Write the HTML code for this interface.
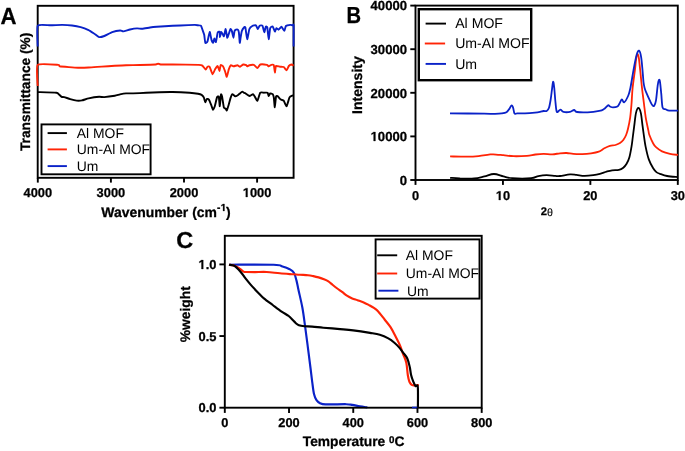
<!DOCTYPE html>
<html><head><meta charset="utf-8"><style>
html,body{margin:0;padding:0;background:#fff;}
text{text-rendering:geometricPrecision;}
text[font-weight="bold"]{stroke:#000;stroke-width:0.28px;}
body{width:685px;height:451px;overflow:hidden;}
svg{display:block;will-change:transform;font-family:"Liberation Sans",sans-serif;}
</style></head><body>
<svg width="685" height="451" viewBox="0 0 685 451">
<rect width="685" height="451" fill="#fff"/>
<rect x="37.7" y="5.8" width="255.90" height="172.00" fill="none" stroke="#000" stroke-width="1.9"/>
<path d="M37.70,92.10 C39.26,92.15 54.62,92.50 56.40,92.70 C58.17,92.90 58.57,94.16 59.00,94.50 C59.43,94.84 61.17,96.58 61.60,96.80 C62.03,97.02 63.48,96.91 64.20,97.10 C64.92,97.29 69.16,98.81 70.20,99.10 C71.24,99.39 75.72,100.49 76.70,100.60 C77.68,100.71 81.01,100.58 82.00,100.40 C82.99,100.22 87.17,98.70 88.60,98.40 C90.02,98.10 97.79,96.91 99.10,96.80 C100.41,96.69 102.99,97.18 104.30,97.10 C105.61,97.02 113.49,96.02 114.80,95.80 C116.11,95.58 119.07,94.60 120.00,94.40 C120.93,94.20 124.91,93.48 126.00,93.40 C127.09,93.32 131.41,93.45 133.10,93.40 C134.79,93.35 144.11,92.90 146.30,92.80 C148.49,92.70 157.21,92.27 159.40,92.20 C161.59,92.13 170.08,91.95 172.60,92.00 C175.12,92.05 187.48,92.65 189.60,92.80 C191.72,92.95 197.00,93.62 198.00,93.80 C199.00,93.97 201.12,94.60 201.60,94.90 C202.08,95.20 203.49,96.79 203.80,97.40 C204.11,98.01 205.05,102.08 205.30,102.20 C205.55,102.33 206.50,99.12 206.80,98.90 C207.10,98.68 208.54,99.12 208.90,99.60 C209.26,100.08 210.76,103.85 211.10,104.70 C211.44,105.55 212.69,109.67 213.00,109.80 C213.31,109.92 214.47,107.23 214.80,106.20 C215.13,105.17 216.67,98.19 217.00,97.40 C217.33,96.61 218.57,95.97 218.80,96.70 C219.03,97.43 219.62,106.38 219.80,106.20 C219.98,106.02 220.81,95.29 221.00,94.50 C221.19,93.71 221.86,95.61 222.10,96.70 C222.34,97.79 223.60,106.60 223.90,107.60 C224.20,108.60 225.46,108.46 225.70,108.70 C225.94,108.94 226.55,110.83 226.80,110.50 C227.05,110.17 228.39,105.73 228.70,104.70 C229.01,103.67 230.20,98.98 230.50,98.10 C230.80,97.22 231.91,94.25 232.30,94.10 C232.69,93.95 234.74,96.21 235.20,96.30 C235.66,96.39 237.40,95.44 237.80,95.20 C238.20,94.96 239.63,93.70 240.00,93.40 C240.37,93.10 241.83,91.63 242.20,91.60 C242.57,91.57 244.17,92.88 244.40,93.00 C244.63,93.12 244.58,92.75 245.00,93.00 C245.42,93.25 248.73,95.91 249.40,96.00 C250.07,96.09 252.52,93.98 253.00,94.10 C253.48,94.22 254.83,96.85 255.20,97.40 C255.57,97.95 256.97,101.09 257.40,100.70 C257.82,100.31 259.75,93.37 260.30,92.70 C260.85,92.03 263.39,92.70 264.00,92.70 C264.61,92.70 267.21,92.42 267.60,92.70 C267.99,92.98 268.48,95.94 268.70,96.00 C268.92,96.06 269.87,93.56 270.20,93.40 C270.53,93.24 272.40,93.77 272.70,94.10 C273.00,94.43 273.62,96.30 273.80,97.40 C273.98,98.50 274.62,107.36 274.80,107.30 C274.98,107.24 275.77,97.64 276.00,96.70 C276.23,95.76 277.10,95.76 277.50,96.00 C277.90,96.24 280.28,99.21 280.80,99.60 C281.32,99.99 283.22,100.15 283.70,100.70 C284.18,101.25 286.12,106.48 286.60,106.20 C287.08,105.92 289.02,98.28 289.50,97.40 C289.98,96.52 292.06,95.75 292.40,95.60 C292.74,95.45 293.50,95.60 293.60,95.60" fill="none" stroke="#000" stroke-width="1.9" stroke-linejoin="round" stroke-linecap="butt"/>
<path d="M37.70,85.90 C37.70,84.15 35.98,66.65 37.70,64.90 C39.42,63.15 56.47,64.79 58.30,64.90 C60.13,65.01 58.83,66.02 59.70,66.20 C60.58,66.38 67.27,66.97 68.80,67.10 C70.33,67.22 76.35,67.67 78.00,67.70 C79.65,67.73 86.62,67.59 88.60,67.50 C90.57,67.41 99.52,66.74 101.70,66.60 C103.88,66.46 112.77,65.92 114.80,65.80 C116.83,65.68 123.90,65.27 126.00,65.20 C128.10,65.13 137.54,65.06 140.00,65.00 C142.46,64.94 153.99,64.61 155.50,64.50 C157.01,64.39 157.67,63.70 158.10,63.70 C158.53,63.70 159.49,64.43 160.70,64.50 C161.91,64.57 169.42,64.47 172.60,64.50 C175.78,64.53 196.32,64.81 198.80,64.90 C201.28,64.99 201.83,65.21 202.40,65.60 C202.97,65.99 205.27,69.51 205.70,69.60 C206.12,69.69 207.17,66.92 207.50,66.70 C207.83,66.48 209.27,66.37 209.70,67.00 C210.12,67.63 212.14,74.14 212.60,74.30 C213.06,74.46 214.77,69.59 215.20,68.90 C215.62,68.21 217.34,65.82 217.70,66.00 C218.06,66.18 219.26,71.17 219.50,71.10 C219.74,71.03 220.32,65.62 220.60,65.20 C220.88,64.78 222.43,65.51 222.80,66.00 C223.17,66.49 224.67,70.19 225.00,71.10 C225.33,72.01 226.49,77.03 226.80,76.90 C227.11,76.78 228.37,70.57 228.70,69.60 C229.03,68.62 230.38,65.48 230.80,65.20 C231.23,64.92 233.25,66.30 233.80,66.30 C234.35,66.30 236.88,65.17 237.40,65.20 C237.92,65.23 239.51,66.76 240.00,66.70 C240.49,66.64 242.78,64.62 243.30,64.50 C243.82,64.38 245.88,65.05 246.20,65.20 C246.52,65.35 246.93,66.30 247.20,66.30 C247.47,66.30 248.85,65.32 249.40,65.20 C249.95,65.08 253.13,64.66 253.80,64.90 C254.47,65.14 256.86,68.13 257.40,68.10 C257.94,68.07 259.51,64.77 260.30,64.50 C261.09,64.23 266.20,64.75 266.90,64.90 C267.60,65.05 268.33,66.30 268.70,66.30 C269.07,66.30 270.88,64.99 271.30,64.90 C271.73,64.81 273.50,64.57 273.80,65.20 C274.10,65.83 274.72,72.43 274.90,72.50 C275.08,72.57 275.57,66.48 276.00,66.00 C276.43,65.52 279.36,66.62 280.00,66.70 C280.64,66.78 283.15,66.70 283.70,67.00 C284.25,67.30 286.18,70.38 286.60,70.30 C287.03,70.22 288.38,66.48 288.80,66.00 C289.23,65.52 291.30,64.53 291.70,64.50 C292.10,64.47 293.44,65.51 293.60,65.60" fill="none" stroke="#ff2406" stroke-width="1.9" stroke-linejoin="round" stroke-linecap="butt"/>
<path d="M37.70,46.50 C37.70,44.77 36.68,27.57 37.70,25.80 C38.73,24.03 47.95,25.38 50.00,25.30 C52.05,25.23 60.47,24.88 62.30,24.90 C64.13,24.92 70.47,25.32 72.00,25.50 C73.53,25.68 79.32,26.72 80.70,27.10 C82.08,27.48 87.49,29.57 88.60,30.10 C89.71,30.63 93.12,32.92 94.00,33.50 C94.88,34.08 98.24,36.89 99.10,37.10 C99.96,37.31 103.21,36.42 104.30,36.00 C105.39,35.58 110.88,32.56 112.20,32.10 C113.53,31.64 119.28,30.56 120.20,30.50 C121.12,30.44 122.48,31.48 123.30,31.40 C124.12,31.32 128.85,29.75 130.00,29.50 C131.15,29.25 136.07,28.46 137.10,28.40 C138.12,28.34 141.23,28.88 142.30,28.80 C143.38,28.73 148.79,27.67 150.00,27.50 C151.21,27.33 154.92,26.94 156.80,26.80 C158.68,26.66 169.97,25.94 172.60,25.80 C175.22,25.66 186.44,25.18 188.30,25.10 C190.16,25.03 194.09,24.88 194.90,24.90 C195.71,24.92 197.50,25.23 198.00,25.30 C198.50,25.37 200.51,25.27 200.90,25.70 C201.29,26.12 202.42,29.64 202.70,30.40 C202.97,31.16 203.98,33.77 204.20,34.80 C204.42,35.83 205.03,42.25 205.30,42.80 C205.58,43.35 207.13,42.31 207.50,41.40 C207.87,40.49 209.37,32.02 209.70,31.90 C210.03,31.77 211.22,38.99 211.50,39.90 C211.78,40.81 212.76,42.92 213.00,42.80 C213.24,42.67 214.16,38.46 214.40,38.40 C214.64,38.34 215.62,42.58 215.90,42.10 C216.18,41.62 217.37,33.45 217.70,32.60 C218.03,31.75 219.72,31.53 219.90,31.90 C220.08,32.27 219.78,37.00 219.90,37.00 C220.03,37.00 221.07,31.97 221.40,31.90 C221.73,31.83 223.54,36.44 223.90,36.20 C224.26,35.96 225.42,28.88 225.70,29.00 C225.97,29.12 226.95,37.28 227.20,37.70 C227.45,38.12 228.42,34.83 228.70,34.10 C228.97,33.38 230.23,29.25 230.50,29.00 C230.77,28.75 231.66,30.38 231.90,31.10 C232.14,31.83 233.18,37.70 233.40,37.70 C233.62,37.70 234.28,31.77 234.50,31.10 C234.72,30.43 235.72,29.82 236.00,29.70 C236.28,29.58 237.56,29.46 237.80,29.70 C238.04,29.94 238.73,31.51 238.90,32.60 C239.07,33.69 239.65,42.43 239.80,42.80 C239.95,43.17 240.53,37.98 240.70,37.00 C240.87,36.02 241.53,31.89 241.80,31.10 C242.08,30.31 243.70,27.80 244.00,27.50 C244.30,27.20 245.13,26.52 245.40,27.50 C245.67,28.48 246.87,39.08 247.20,39.20 C247.53,39.33 248.97,30.10 249.40,29.00 C249.83,27.90 251.76,26.31 252.30,26.00 C252.84,25.69 255.44,25.05 255.90,25.30 C256.36,25.55 257.49,28.97 257.80,29.00 C258.11,29.03 259.21,25.97 259.60,25.70 C259.99,25.43 262.11,25.16 262.50,25.70 C262.89,26.24 264.03,32.11 264.30,32.20 C264.57,32.29 265.55,27.19 265.80,26.80 C266.05,26.41 267.06,26.47 267.30,27.50 C267.54,28.53 268.46,39.14 268.70,39.20 C268.94,39.26 269.87,29.27 270.20,28.20 C270.53,27.13 272.31,26.12 272.70,26.40 C273.09,26.67 274.59,31.35 274.90,31.50 C275.21,31.65 276.09,28.35 276.40,28.20 C276.71,28.05 278.18,29.82 278.60,29.70 C279.03,29.58 281.02,26.71 281.50,26.80 C281.98,26.89 284.03,30.87 284.40,30.80 C284.77,30.73 285.41,26.49 285.90,26.00 C286.39,25.51 289.73,24.96 290.30,24.90 C290.88,24.84 292.53,25.27 292.80,25.30 C293.07,25.33 293.53,23.53 293.60,25.30 C293.67,27.07 293.60,44.73 293.60,46.50" fill="none" stroke="#0a22c8" stroke-width="1.9" stroke-linejoin="round" stroke-linecap="butt"/>
<line x1="37.8" y1="177.8" x2="37.8" y2="182.6" stroke="#000" stroke-width="1.9"/>
<text x="37.8" y="197.1" font-size="12.85" text-anchor="middle" font-weight="bold" >4000</text>
<line x1="110.9" y1="177.8" x2="110.9" y2="182.6" stroke="#000" stroke-width="1.9"/>
<text x="110.9" y="197.1" font-size="12.85" text-anchor="middle" font-weight="bold" >3000</text>
<line x1="184.0" y1="177.8" x2="184.0" y2="182.6" stroke="#000" stroke-width="1.9"/>
<text x="184.0" y="197.1" font-size="12.85" text-anchor="middle" font-weight="bold" >2000</text>
<line x1="257.1" y1="177.8" x2="257.1" y2="182.6" stroke="#000" stroke-width="1.9"/>
<path transform="translate(242.807,197) scale(0.006274,-0.006274)" d="M478 0V1170L140 959V1180L493 1409H759V0Z" fill="#000" stroke="#000" stroke-width="0.28" vector-effect="non-scaling-stroke"/>
<text x="257.1" y="197.1" font-size="12.85" text-anchor="middle" font-weight="bold" > 000</text>
<text transform="translate(0.50,24.33) scale(0.9462,1)" font-size="23.43" font-weight="bold">A</text>
<path transform="translate(220.679,211) scale(0.004980,-0.004980)" d="M478 0V1170L140 959V1180L493 1409H759V0Z" fill="#000" stroke="#000" stroke-width="0.28" vector-effect="non-scaling-stroke"/>
<text x="166" y="217.3" font-size="13.95" text-anchor="middle" font-weight="bold">Wavenumber (cm<tspan font-size="10.2" dy="-6.0">- </tspan><tspan dy="6.0">)</tspan></text>
<text transform="translate(29.5,91.8) rotate(-90)" x="0" y="0" font-size="13.75" text-anchor="middle" font-weight="bold">Transmittance (%)</text>
<rect x="41.5" y="124.4" width="109.1" height="49.9" fill="#fff" stroke="#000" stroke-width="1.9"/>
<line x1="47.6" y1="133.1" x2="66.9" y2="133.1" stroke="#000" stroke-width="1.9"/>
<text x="76.8" y="138.0" font-size="13.9" text-anchor="start" font-weight="normal" >Al MOF</text>
<line x1="47.6" y1="149.4" x2="66.9" y2="149.4" stroke="#ff2406" stroke-width="1.9"/>
<text x="76.8" y="154.3" font-size="13.9" text-anchor="start" font-weight="normal" >Um-Al MOF</text>
<line x1="47.6" y1="166.1" x2="66.9" y2="166.1" stroke="#0a22c8" stroke-width="1.9"/>
<text x="76.8" y="171.0" font-size="13.9" text-anchor="start" font-weight="normal" >Um</text>
<rect x="415.5" y="5.6" width="262.30" height="174.40" fill="none" stroke="#000" stroke-width="1.9"/>
<path d="M450.10,177.80 C451.68,177.92 455.58,178.38 459.60,178.50 C463.62,178.62 470.07,178.85 474.20,178.50 C478.33,178.15 481.12,177.15 484.40,176.40 C487.68,175.65 490.73,174.00 493.90,174.00 C497.07,174.00 500.35,175.70 503.40,176.40 C506.45,177.10 507.58,177.90 512.20,178.20 C516.82,178.50 526.73,178.55 531.10,178.20 C535.47,177.85 535.83,176.60 538.40,176.10 C540.97,175.60 543.70,175.23 546.50,175.20 C549.30,175.17 552.95,175.77 555.20,175.90 C557.45,176.03 557.53,176.25 560.00,176.00 C562.47,175.75 567.23,174.58 570.00,174.40 C572.77,174.22 574.20,174.67 576.60,174.90 C579.00,175.13 581.62,175.77 584.40,175.80 C587.18,175.83 590.72,175.43 593.30,175.10 C595.88,174.77 597.68,174.38 599.90,173.80 C602.12,173.22 604.57,172.18 606.60,171.60 C608.63,171.02 610.05,170.58 612.10,170.30 C614.15,170.02 617.03,170.33 618.90,169.90 C620.77,169.47 622.02,168.72 623.30,167.70 C624.58,166.68 625.58,165.55 626.60,163.80 C627.62,162.05 628.57,160.15 629.40,157.20 C630.23,154.25 631.03,149.47 631.60,146.10 C632.17,142.73 632.37,140.32 632.80,137.00 C633.23,133.68 633.67,130.22 634.20,126.20 C634.73,122.18 635.30,115.93 636.00,112.90 C636.70,109.87 637.60,108.00 638.40,108.00 C639.20,108.00 640.10,109.87 640.80,112.90 C641.50,115.93 642.10,122.52 642.60,126.20 C643.10,129.88 643.32,131.68 643.80,135.00 C644.28,138.32 644.67,142.03 645.50,146.10 C646.33,150.17 647.52,155.70 648.80,159.40 C650.08,163.10 651.93,166.18 653.20,168.30 C654.47,170.42 655.27,171.18 656.40,172.10 C657.53,173.02 658.22,173.15 660.00,173.80 C661.78,174.45 664.10,175.45 667.10,176.00 C670.10,176.55 676.18,176.92 678.00,177.10" fill="none" stroke="#000" stroke-width="1.8" stroke-linejoin="round" stroke-linecap="butt"/>
<path d="M450.10,156.40 C452.90,156.45 462.15,156.75 466.90,156.70 C471.65,156.65 474.95,156.45 478.60,156.10 C482.25,155.75 486.37,154.90 488.80,154.60 C491.23,154.30 490.77,154.20 493.20,154.30 C495.63,154.40 500.00,154.88 503.40,155.20 C506.80,155.52 509.70,156.10 513.60,156.20 C517.50,156.30 523.15,156.08 526.80,155.80 C530.45,155.52 532.70,154.82 535.50,154.50 C538.30,154.18 540.80,153.93 543.60,153.90 C546.40,153.87 549.57,154.40 552.30,154.30 C555.03,154.20 557.60,153.52 560.00,153.30 C562.40,153.08 564.48,152.90 566.70,153.00 C568.92,153.10 570.72,153.72 573.30,153.90 C575.88,154.08 579.23,154.20 582.20,154.10 C585.17,154.00 588.33,153.72 591.10,153.30 C593.87,152.88 596.58,152.43 598.80,151.60 C601.02,150.77 602.55,149.25 604.40,148.30 C606.25,147.35 608.05,146.45 609.90,145.90 C611.75,145.35 613.82,145.47 615.50,145.00 C617.18,144.53 618.70,143.93 620.00,143.10 C621.30,142.27 622.28,141.35 623.30,140.00 C624.32,138.65 625.32,136.87 626.10,135.00 C626.88,133.13 627.32,131.75 628.00,128.80 C628.68,125.85 629.62,121.43 630.20,117.30 C630.78,113.17 631.10,108.88 631.50,104.00 C631.90,99.12 632.03,93.63 632.60,88.00 C633.17,82.37 634.30,75.10 634.90,70.20 C635.50,65.30 635.77,61.27 636.20,58.60 C636.63,55.93 637.07,54.33 637.50,54.20 C637.93,54.07 638.35,55.13 638.80,57.80 C639.25,60.47 639.67,65.17 640.20,70.20 C640.73,75.23 641.52,83.53 642.00,88.00 C642.48,92.47 642.77,94.33 643.10,97.00 C643.43,99.67 643.57,100.62 644.00,104.00 C644.43,107.38 644.97,112.87 645.70,117.30 C646.43,121.73 647.78,127.65 648.40,130.60 C649.02,133.55 648.60,132.85 649.40,135.00 C650.20,137.15 652.10,141.47 653.20,143.50 C654.30,145.53 654.53,145.88 656.00,147.20 C657.47,148.52 659.67,150.28 662.00,151.40 C664.33,152.52 667.33,153.32 670.00,153.90 C672.67,154.48 676.67,154.73 678.00,154.90" fill="none" stroke="#ff2406" stroke-width="1.8" stroke-linejoin="round" stroke-linecap="butt"/>
<path d="M450.00,113.30 C455.72,113.37 476.80,113.62 484.30,113.70 C491.80,113.78 492.10,113.85 495.00,113.80 C497.90,113.75 499.78,113.67 501.70,113.40 C503.62,113.13 505.25,112.92 506.50,112.20 C507.75,111.48 508.38,110.22 509.20,109.10 C510.02,107.98 510.77,105.80 511.40,105.50 C512.03,105.20 512.48,105.97 513.00,107.30 C513.52,108.63 513.80,112.50 514.50,113.50 C515.20,114.50 515.45,113.33 517.20,113.30 C518.95,113.27 522.03,113.42 525.00,113.30 C527.97,113.18 532.50,112.83 535.00,112.60 C537.50,112.37 538.58,112.17 540.00,111.90 C541.42,111.63 542.38,111.15 543.50,111.00 C544.62,110.85 545.80,111.50 546.70,111.00 C547.60,110.50 548.25,109.83 548.90,108.00 C549.55,106.17 550.08,103.12 550.60,100.00 C551.12,96.88 551.58,92.33 552.00,89.30 C552.42,86.27 552.73,82.10 553.10,81.80 C553.47,81.50 553.80,84.03 554.20,87.50 C554.60,90.97 555.05,98.53 555.50,102.60 C555.95,106.67 556.08,110.72 556.90,111.90 C557.72,113.08 559.30,109.70 560.40,109.70 C561.50,109.70 561.90,111.53 563.50,111.90 C565.10,112.27 568.23,112.22 570.00,111.90 C571.77,111.58 572.93,109.98 574.10,110.00 C575.27,110.02 574.75,111.62 577.00,112.00 C579.25,112.38 583.90,112.48 587.60,112.30 C591.30,112.12 596.48,111.43 599.20,110.90 C601.92,110.37 602.43,110.03 603.90,109.10 C605.37,108.17 606.98,105.73 608.00,105.30 C609.02,104.87 609.17,106.15 610.00,106.50 C610.83,106.85 611.77,107.40 613.00,107.40 C614.23,107.40 616.32,107.15 617.40,106.50 C618.48,105.85 618.75,104.68 619.50,103.50 C620.25,102.32 621.12,99.60 621.90,99.40 C622.68,99.20 623.13,102.95 624.20,102.30 C625.27,101.65 627.27,97.88 628.30,95.50 C629.33,93.12 629.53,92.22 630.40,88.00 C631.27,83.78 632.47,75.68 633.50,70.20 C634.53,64.72 635.67,58.35 636.60,55.10 C637.53,51.85 638.35,50.40 639.10,50.70 C639.85,51.00 640.53,53.68 641.10,56.90 C641.67,60.12 642.10,65.82 642.50,70.00 C642.90,74.18 643.15,79.00 643.50,82.00 C643.85,85.00 644.15,86.27 644.60,88.00 C645.05,89.73 645.33,90.33 646.20,92.40 C647.07,94.47 648.77,98.25 649.80,100.40 C650.83,102.55 651.67,104.42 652.40,105.30 C653.13,106.18 653.60,106.52 654.20,105.70 C654.80,104.88 655.42,103.80 656.00,100.40 C656.58,97.00 657.22,88.70 657.70,85.30 C658.18,81.90 658.52,80.58 658.90,80.00 C659.28,79.42 659.60,79.43 660.00,81.80 C660.40,84.17 660.87,89.92 661.30,94.20 C661.73,98.48 661.87,104.98 662.60,107.50 C663.33,110.02 664.58,108.78 665.70,109.30 C666.82,109.82 667.25,110.38 669.30,110.60 C671.35,110.82 676.55,110.60 678.00,110.60" fill="none" stroke="#0a22c8" stroke-width="1.8" stroke-linejoin="round" stroke-linecap="butt"/>
<line x1="410.3" y1="5.6" x2="415.5" y2="5.6" stroke="#000" stroke-width="1.9"/>
<text x="407.0" y="10.45" font-size="13.1" text-anchor="end" font-weight="bold" >40000</text>
<line x1="410.3" y1="49.2" x2="415.5" y2="49.2" stroke="#000" stroke-width="1.9"/>
<text x="407.0" y="54.050000000000004" font-size="13.1" text-anchor="end" font-weight="bold" >30000</text>
<line x1="410.3" y1="92.8" x2="415.5" y2="92.8" stroke="#000" stroke-width="1.9"/>
<text x="407.0" y="97.64999999999999" font-size="13.1" text-anchor="end" font-weight="bold" >20000</text>
<line x1="410.3" y1="136.4" x2="415.5" y2="136.4" stroke="#000" stroke-width="1.9"/>
<path transform="translate(370.572,141) scale(0.006396,-0.006396)" d="M478 0V1170L140 959V1180L493 1409H759V0Z" fill="#000" stroke="#000" stroke-width="0.28" vector-effect="non-scaling-stroke"/>
<text x="407.0" y="141.25" font-size="13.1" text-anchor="end" font-weight="bold" > 0000</text>
<line x1="410.3" y1="180.0" x2="415.5" y2="180.0" stroke="#000" stroke-width="1.9"/>
<text x="407.0" y="184.85" font-size="13.1" text-anchor="end" font-weight="bold" >0</text>
<line x1="415.5" y1="180.0" x2="415.5" y2="184.9" stroke="#000" stroke-width="1.9"/>
<text x="415.5" y="200.4" font-size="12.8" text-anchor="middle" font-weight="bold" >0</text>
<line x1="502.93333333333334" y1="180.0" x2="502.93333333333334" y2="184.9" stroke="#000" stroke-width="1.9"/>
<path transform="translate(495.815,200) scale(0.006250,-0.006250)" d="M478 0V1170L140 959V1180L493 1409H759V0Z" fill="#000" stroke="#000" stroke-width="0.28" vector-effect="non-scaling-stroke"/>
<text x="502.93333333333334" y="200.4" font-size="12.8" text-anchor="middle" font-weight="bold" > 0</text>
<line x1="590.3666666666667" y1="180.0" x2="590.3666666666667" y2="184.9" stroke="#000" stroke-width="1.9"/>
<text x="590.3666666666667" y="200.4" font-size="12.8" text-anchor="middle" font-weight="bold" >20</text>
<line x1="677.8" y1="180.0" x2="677.8" y2="184.9" stroke="#000" stroke-width="1.9"/>
<text x="677.8" y="200.4" font-size="12.8" text-anchor="middle" font-weight="bold" >30</text>
<text x="546.9" y="214.9" font-size="11.2" text-anchor="middle" font-weight="bold">2<tspan font-weight="normal" font-size="10.7" style="stroke-width:0.12px" dy="0.6">θ</tspan></text>
<text transform="translate(346.53,23.4) scale(0.8692,1)" font-size="23.18" font-weight="bold">B</text>
<text transform="translate(362.2,85.1) rotate(-90)" x="0" y="0" font-size="14.05" text-anchor="middle" font-weight="bold">Intensity</text>
<rect x="418.8" y="9.2" width="112.4" height="71.0" fill="#fff" stroke="#000" stroke-width="2.4"/>
<line x1="425.6" y1="23.6" x2="446" y2="23.6" stroke="#000" stroke-width="1.9"/>
<text x="455.2" y="28.200000000000003" font-size="14.1" text-anchor="start" font-weight="normal" >Al MOF</text>
<line x1="424.8" y1="43.5" x2="445.1" y2="43.5" stroke="#ff2406" stroke-width="1.9"/>
<text x="455.2" y="48.1" font-size="14.1" text-anchor="start" font-weight="normal" >Um-Al MOF</text>
<line x1="425.6" y1="63.9" x2="446" y2="63.9" stroke="#0a22c8" stroke-width="1.9"/>
<text x="455.2" y="68.5" font-size="14.1" text-anchor="start" font-weight="normal" >Um</text>
<path d="M229.00,264.70 C236.45,264.72 264.78,264.50 273.70,264.80 C282.62,265.10 279.85,265.77 282.50,266.50 C285.15,267.23 287.70,268.17 289.60,269.20 C291.50,270.23 292.75,270.80 293.90,272.70 C295.05,274.60 295.73,277.72 296.50,280.60 C297.27,283.48 297.52,285.47 298.50,290.00 C299.48,294.53 301.30,301.73 302.40,307.80 C303.50,313.87 304.20,319.90 305.10,326.40 C306.00,332.90 306.90,339.87 307.80,346.80 C308.70,353.73 309.77,362.17 310.50,368.00 C311.23,373.83 311.62,377.47 312.20,381.80 C312.78,386.13 313.28,390.95 314.00,394.00 C314.72,397.05 315.48,398.57 316.50,400.10 C317.52,401.63 318.58,402.48 320.10,403.20 C321.62,403.92 321.27,404.23 325.60,404.40 C329.93,404.57 341.63,404.12 346.10,404.20 C350.57,404.28 350.10,404.53 352.40,404.90 C354.70,405.27 357.42,405.98 359.90,406.40 C362.38,406.82 366.07,407.23 367.30,407.40" fill="none" stroke="#0a22c8" stroke-width="2.15" stroke-linejoin="round" stroke-linecap="butt"/>
<rect x="224.8" y="235.8" width="256.90" height="171.90" fill="none" stroke="#000" stroke-width="1.9"/>
<path d="M229.00,264.70 C230.00,264.92 233.23,265.35 235.00,266.00 C236.77,266.65 238.17,267.67 239.60,268.60 C241.03,269.53 242.48,271.03 243.60,271.60 C244.72,272.17 244.40,271.92 246.30,272.00 C248.20,272.08 251.62,272.10 255.00,272.10 C258.38,272.10 262.45,271.80 266.60,272.00 C270.75,272.20 275.47,272.92 279.90,273.30 C284.33,273.68 289.85,274.05 293.20,274.30 C296.55,274.55 297.53,274.65 300.00,274.80 C302.47,274.95 305.78,274.98 308.00,275.20 C310.22,275.42 311.53,275.73 313.30,276.10 C315.07,276.47 316.83,276.88 318.60,277.40 C320.37,277.92 322.27,278.53 323.90,279.20 C325.53,279.87 326.92,280.43 328.40,281.40 C329.88,282.37 331.32,283.82 332.80,285.00 C334.28,286.18 335.70,287.30 337.30,288.50 C338.90,289.70 340.80,291.00 342.40,292.20 C344.00,293.40 345.27,294.67 346.90,295.70 C348.53,296.73 350.43,297.65 352.20,298.40 C353.97,299.15 355.58,299.53 357.50,300.20 C359.42,300.87 361.78,301.58 363.70,302.40 C365.62,303.22 367.37,304.22 369.00,305.10 C370.63,305.98 372.00,306.67 373.50,307.70 C375.00,308.73 376.15,309.33 378.00,311.30 C379.85,313.27 382.48,316.82 384.60,319.50 C386.72,322.18 388.87,324.55 390.70,327.40 C392.53,330.25 394.05,333.58 395.60,336.60 C397.15,339.62 398.77,342.63 400.00,345.50 C401.23,348.37 401.95,350.93 403.00,353.80 C404.05,356.67 405.50,359.17 406.30,362.70 C407.10,366.23 407.28,371.83 407.80,375.00 C408.32,378.17 408.67,380.02 409.40,381.70 C410.13,383.38 411.18,384.50 412.20,385.10 C413.22,385.70 414.40,385.32 415.50,385.30 C416.60,385.28 418.25,385.05 418.80,385.00" fill="none" stroke="#ff2406" stroke-width="2.15" stroke-linejoin="round" stroke-linecap="butt"/>
<path d="M229.00,264.70 C229.88,264.87 232.75,264.93 234.30,265.70 C235.85,266.47 236.97,267.92 238.30,269.30 C239.63,270.68 241.13,272.52 242.30,274.00 C243.47,275.48 243.92,276.43 245.30,278.20 C246.68,279.97 248.98,282.73 250.60,284.60 C252.22,286.47 253.53,287.85 255.00,289.40 C256.47,290.95 257.92,292.42 259.40,293.90 C260.88,295.38 261.68,296.45 263.90,298.30 C266.12,300.15 269.75,302.78 272.70,305.00 C275.65,307.22 278.93,309.77 281.60,311.60 C284.27,313.43 286.97,314.72 288.70,316.00 C290.43,317.28 290.80,318.10 292.00,319.30 C293.20,320.50 294.75,322.20 295.90,323.20 C297.05,324.20 297.48,324.78 298.90,325.30 C300.32,325.82 302.18,326.08 304.40,326.30 C306.62,326.52 309.05,326.37 312.20,326.60 C315.35,326.83 318.67,327.28 323.30,327.70 C327.93,328.12 335.02,328.65 340.00,329.10 C344.98,329.55 348.20,329.77 353.20,330.40 C358.20,331.03 365.57,332.17 370.00,332.90 C374.43,333.63 376.75,333.88 379.80,334.80 C382.85,335.72 385.87,337.08 388.30,338.40 C390.73,339.72 392.57,341.17 394.40,342.70 C396.23,344.23 397.92,346.03 399.30,347.60 C400.68,349.17 401.38,350.32 402.70,352.10 C404.02,353.88 406.02,355.78 407.20,358.30 C408.38,360.82 409.15,364.42 409.80,367.20 C410.45,369.98 410.52,372.58 411.10,375.00 C411.68,377.42 412.57,379.87 413.30,381.70 C414.03,383.53 414.75,385.13 415.50,386.00 C416.25,386.87 417.40,383.28 417.80,386.90 C418.20,390.52 417.88,404.23 417.90,407.70" fill="none" stroke="#000" stroke-width="2.15" stroke-linejoin="round" stroke-linecap="butt"/>
<line x1="412" y1="407.5" x2="417.3" y2="407.5" stroke="#0a22c8" stroke-width="1.6"/>
<line x1="219.4" y1="264.4" x2="224.8" y2="264.4" stroke="#000" stroke-width="1.9"/>
<path transform="translate(198.467,269) scale(0.006299,-0.006299)" d="M478 0V1170L140 959V1180L493 1409H759V0Z" fill="#000" stroke="#000" stroke-width="0.28" vector-effect="non-scaling-stroke"/>
<text x="216.4" y="269.09999999999997" font-size="12.9" text-anchor="end" font-weight="bold" > .0</text>
<line x1="219.4" y1="336.05" x2="224.8" y2="336.05" stroke="#000" stroke-width="1.9"/>
<text x="216.4" y="340.75" font-size="12.9" text-anchor="end" font-weight="bold" >0.5</text>
<line x1="219.4" y1="407.7" x2="224.8" y2="407.7" stroke="#000" stroke-width="1.9"/>
<text x="216.4" y="412.4" font-size="12.9" text-anchor="end" font-weight="bold" >0.0</text>
<line x1="224.8" y1="407.7" x2="224.8" y2="412.9" stroke="#000" stroke-width="1.9"/>
<text x="224.8" y="427.0" font-size="12.8" text-anchor="middle" font-weight="bold" >0</text>
<line x1="289.025" y1="407.7" x2="289.025" y2="412.9" stroke="#000" stroke-width="1.9"/>
<text x="289.025" y="427.0" font-size="12.8" text-anchor="middle" font-weight="bold" >200</text>
<line x1="353.25" y1="407.7" x2="353.25" y2="412.9" stroke="#000" stroke-width="1.9"/>
<text x="353.25" y="427.0" font-size="12.8" text-anchor="middle" font-weight="bold" >400</text>
<line x1="417.475" y1="407.7" x2="417.475" y2="412.9" stroke="#000" stroke-width="1.9"/>
<text x="417.475" y="427.0" font-size="12.8" text-anchor="middle" font-weight="bold" >600</text>
<line x1="481.7" y1="407.7" x2="481.7" y2="412.9" stroke="#000" stroke-width="1.9"/>
<text x="481.7" y="427.0" font-size="12.8" text-anchor="middle" font-weight="bold" >800</text>
<text transform="translate(176.30,248.25) scale(1.0206,1)" font-size="23.02" font-weight="bold">C</text>
<text x="353.6" y="446.3" font-size="13.78" text-anchor="middle" font-weight="bold">Temperature <tspan font-size="9.8" dy="-3.8">0</tspan><tspan dy="3.8">C</tspan></text>
<text transform="translate(189.6,314.2) rotate(-90)" x="0" y="0" font-size="13.8" text-anchor="middle" font-weight="bold">%weight</text>
<rect x="375.6" y="239.4" width="103.9" height="59.2" fill="#fff" stroke="#000" stroke-width="1.9"/>
<line x1="377.2" y1="255.3" x2="397.2" y2="255.3" stroke="#000" stroke-width="1.9"/>
<text x="405.8" y="260.2" font-size="13.9" text-anchor="start" font-weight="normal" >Al MOF</text>
<line x1="377.2" y1="273.5" x2="397.2" y2="273.5" stroke="#ff2406" stroke-width="1.9"/>
<text x="405.8" y="278.4" font-size="13.9" text-anchor="start" font-weight="normal" >Um-Al MOF</text>
<line x1="378.4" y1="290.7" x2="398.4" y2="290.7" stroke="#0a22c8" stroke-width="1.9"/>
<text x="406.90000000000003" y="295.59999999999997" font-size="13.9" text-anchor="start" font-weight="normal" >Um</text>
</svg>
</body></html>
